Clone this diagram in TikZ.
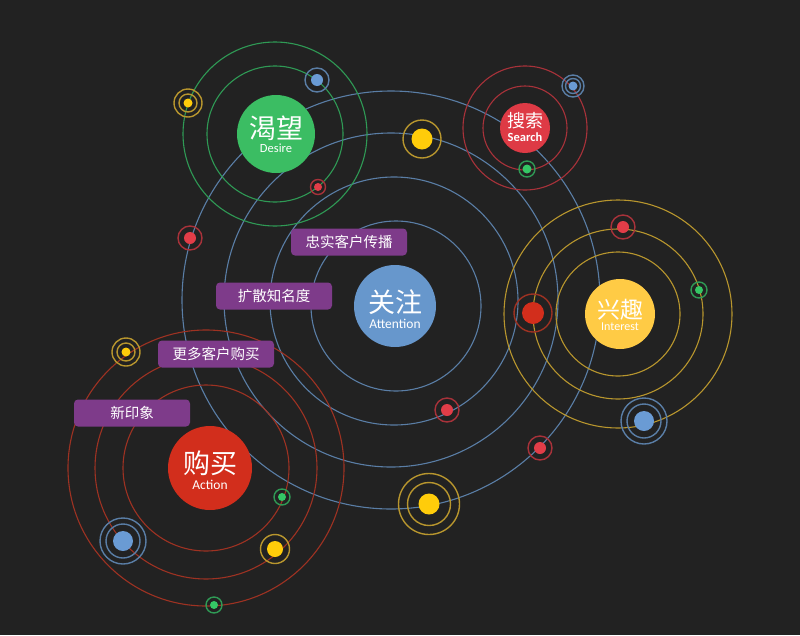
\documentclass[tikz,border=0pt]{standalone}
\usepackage{fontspec}
\setmainfont{Carlito}
\newfontfamily\cjk{Noto Sans CJK SC}
\definecolor{bg}{HTML}{222222}
\definecolor{attblue}{HTML}{6797CC}
\definecolor{orbitblue}{HTML}{5A7EA6}
\definecolor{desgreen}{HTML}{3BBD63}
\definecolor{orbitgreen}{HTML}{2F9A55}
\definecolor{searchred}{HTML}{DE3A45}
\definecolor{orbitred}{HTML}{A8323A}
\definecolor{intyellow}{HTML}{FFCB45}
\definecolor{orbityellow}{HTML}{B8962E}
\definecolor{actred}{HTML}{D22E1C}
\definecolor{orbitact}{HTML}{9E3222}
\definecolor{tagpurple}{HTML}{7E3B8A}
\definecolor{dotred}{HTML}{E23D48}
\definecolor{dotyellow}{HTML}{FFCC0A}
\definecolor{dotgreen}{HTML}{34C765}
\definecolor{dotblue}{HTML}{6A9BD4}
\tikzset{
  orbit/.style = {line width=1.1pt},
  halo/.style  = {line width=1.4pt},
  planet/.style = {circle, inner sep=0pt, fill=#1},
  zh/.style = {text=white, inner sep=0pt, font=\cjk\fontsize{#1}{#1}\selectfont},
  en/.style = {text=white, inner sep=0pt, font=\fontsize{#1}{#1}\selectfont},
  tag/.style = {
    fill=tagpurple, rounded corners=4pt, text=white,
    minimum width=116pt, minimum height=27pt,
    font=\cjk\fontsize{14.5}{14.5}\selectfont
  }
}
% dot with its halo rings: position, fill, ring colour, radius, ring radii
\newcommand{\moon}[5]{%
  \fill[#2] (#1) circle[radius=#4pt];
  \foreach \hr in {#5} {\draw[halo,#3] (#1) circle[radius=\hr pt];}
}

\begin{document}
\begin{tikzpicture}[x=1pt,y=-1pt]
  \fill[bg] (0,0) rectangle (800,635);
  \useasboundingbox (0,0) rectangle (800,635);
  % orbits of attention
  \draw[orbit,orbitblue] (396,306) circle[radius=85pt];
  \draw[orbit,orbitblue] (394,301) circle[radius=124pt];
  \draw[orbit,orbitblue] (391,300) circle[radius=167pt];
  \draw[orbit,orbitblue] (391,300) circle[radius=209pt];
  % orbits of desire, search, interest, action
  \foreach \rad in {68,92}      \draw[orbit,orbitgreen]  (275,134) circle[radius=\rad pt];
  \foreach \rad in {42,62}      \draw[orbit,orbitred]    (525,128) circle[radius=\rad pt];
  \foreach \rad in {62,85,114}  \draw[orbit,orbityellow] (618,314) circle[radius=\rad pt];
  \foreach \rad in {83,111,138} \draw[orbit,orbitact]    (206,468) circle[radius=\rad pt];
  % planets
  \node[planet=attblue,minimum size=82pt] (attention) at (395,306) {};
  \node[zh=27] (attention-zh) at (395,302) {关注};
  \node[en=13.5] (attention-en) at (395,324) {Attention};
  \node[planet=desgreen,minimum size=78pt] (desire) at (276,134) {};
  \node[zh=27] (desire-zh) at (276,128) {渴望};
  \node[en=12.5] (desire-en) at (276,148) {Desire};
  \node[planet=searchred,minimum size=50pt] (search) at (525,128) {};
  \node[zh=18] (search-zh) at (525,121) {搜索};
  \node[en=12.5] (search-en) at (525,137) {\bfseries Search};
  \node[planet=intyellow,minimum size=70pt] (interest) at (620,314) {};
  \node[zh=23] (interest-zh) at (620,310) {兴趣};
  \node[en=12] (interest-en) at (620,327) {Interest};
  \node[planet=actred,minimum size=84pt] (action) at (210,468) {};
  \node[zh=27] (action-zh) at (210,463) {购买};
  \node[en=13.5] (action-en) at (210,485) {Action};
  % tags
  \node[tag] (loyal)   at (349,242) {忠实客户传播};
  \node[tag] (spread)  at (274,296) {扩散知名度};
  \node[tag] (morebuy) at (216,354) {更多客户购买};
  \node[tag] (newimp)  at (132,413) {新印象};
  % moons
  \moon{188,103}{dotyellow}{orbityellow}{4.5}{9,14}
  \moon{317,80}{dotblue}{orbitblue}{6}{12}
  \moon{318,187}{dotred}{orbitred}{4}{7.5}
  \moon{573,86}{dotblue}{orbitblue}{4.5}{7.5,11}
  \moon{527,169}{dotgreen}{orbitgreen}{4.5}{8}
  \moon{623,227}{dotred}{orbitred}{6}{12}
  \moon{699,290}{dotgreen}{orbitgreen}{4}{8}
  \moon{533,313}{actred}{orbitact}{11}{19}
  \moon{644,421}{dotblue}{orbitblue}{10}{17,23}
  \moon{422,139}{dotyellow}{orbityellow}{10.5}{19}
  \moon{190,238}{dotred}{orbitred}{6}{12}
  \moon{447,410}{dotred}{orbitred}{6}{12}
  \moon{540,448}{dotred}{orbitred}{6}{12}
  \moon{429,504}{dotyellow}{orbityellow}{10.5}{21.5,30.5}
  \moon{126,352}{dotyellow}{orbityellow}{4.5}{9,14}
  \moon{282,497}{dotgreen}{orbitgreen}{4}{8}
  \moon{123,541}{dotblue}{orbitblue}{10}{17,23}
  \moon{275,549}{dotyellow}{orbityellow}{8}{14.5}
  \moon{214,605}{dotgreen}{orbitgreen}{4}{8}
\end{tikzpicture}
\end{document}
